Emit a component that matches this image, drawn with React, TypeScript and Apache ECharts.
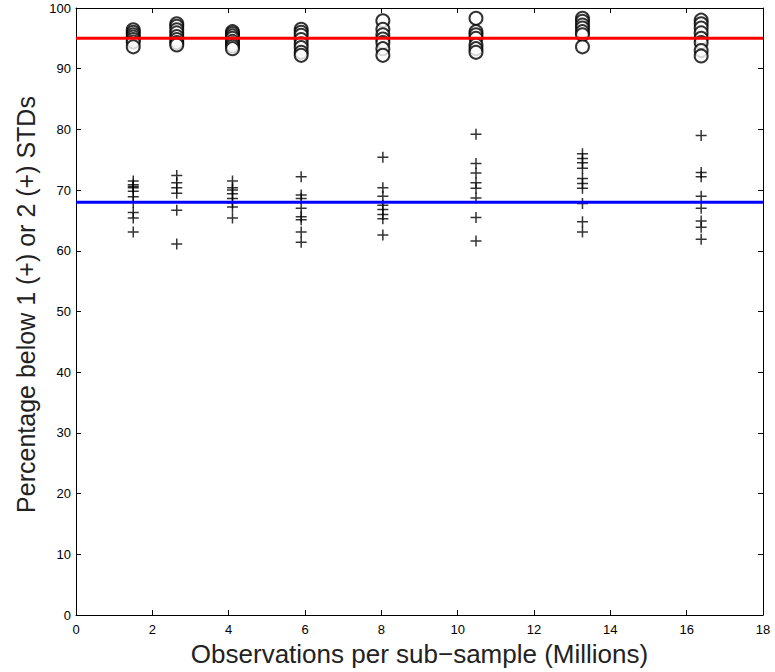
import React, { useEffect, useRef } from "react";
import * as echarts from "echarts";

const xPositions = [1.5, 2.64, 4.1, 5.9, 8.04, 10.48, 13.27, 16.38];

const circleValues: number[][] = [
  [96.4, 96.0, 95.6, 95.2, 94.8, 94.4, 93.6],
  [97.4, 97.0, 96.4, 95.9, 95.3, 94.8, 94.3, 93.9],
  [96.1, 95.8, 95.4, 95.0, 94.5, 94.1, 93.7, 93.3],
  [96.5, 96.0, 95.5, 94.8, 94.1, 93.5, 92.7, 92.2],
  [97.9, 96.5, 95.6, 94.9, 94.3, 93.3, 92.2],
  [98.3, 96.1, 95.6, 95.0, 93.9, 93.3, 92.7],
  [98.3, 97.8, 97.2, 96.7, 96.1, 95.6, 93.6],
  [98.0, 97.4, 96.7, 95.9, 95.0, 94.3, 93.0, 92.1],
];

const plusValues: number[][] = [
  [71.5, 70.9, 70.6, 70.4, 69.8, 68.9, 68.0, 66.3, 65.4, 63.1],
  [72.4, 71.2, 70.4, 69.5, 66.7, 61.1],
  [71.5, 70.4, 70.0, 69.4, 68.6, 67.9, 67.2, 65.4],
  [72.2, 69.2, 68.6, 67.0, 65.6, 65.1, 63.1, 61.4],
  [75.4, 70.4, 69.0, 67.5, 66.8, 66.0, 65.3, 62.6],
  [79.2, 74.4, 72.8, 71.2, 70.3, 68.7, 65.5, 61.6],
  [76.0, 75.2, 74.5, 73.6, 71.9, 71.1, 70.3, 67.8, 64.8, 63.1],
  [79.0, 72.9, 72.2, 69.0, 67.0, 64.9, 63.9, 61.9],
];

const level2Std = 95;
const level1Std = 68;
const xRange = [0, 18];
const yRange = [0, 100];

const font = "'Liberation Sans', Arial, Helvetica, sans-serif";

function pairs(vals: number[][]): number[][] {
  const out: number[][] = [];
  vals.forEach((col, i) => col.forEach((v) => out.push([xPositions[i], v])));
  return out;
}

export default function App() {
  const ref = useRef<HTMLDivElement>(null);
  useEffect(() => {
    if (!ref.current) return;
    const chart = echarts.init(ref.current, undefined, { renderer: "svg" });
    const axisCommon = {
      axisLine: { show: true, onZero: false, lineStyle: { color: "#000", width: 1 } },
      axisTick: { show: true, inside: true, length: 5, lineStyle: { color: "#000" } },
      splitLine: { show: false },
    };
    chart.setOption({
      animation: false,
      backgroundColor: "#fff",
      grid: { left: 76, right: 12, top: 8, bottom: 57, containLabel: false },
      xAxis: [
        {
          type: "value",
          min: xRange[0],
          max: xRange[1],
          interval: 2,
          position: "bottom",
          ...axisCommon,
          axisLabel: { color: "#000", fontSize: 13, fontFamily: font, margin: 8 },
          name: "Observations per sub\u2212sample (Millions)",
          nameLocation: "middle",
          nameGap: 22,
          nameTextStyle: { color: "#222", fontSize: 26, fontFamily: font },
        },
        {
          type: "value",
          min: xRange[0],
          max: xRange[1],
          interval: 2,
          position: "top",
          ...axisCommon,
          axisLabel: { show: false },
        },
      ],
      yAxis: [
        {
          type: "value",
          min: yRange[0],
          max: yRange[1],
          interval: 10,
          position: "left",
          ...axisCommon,
          axisLabel: { color: "#000", fontSize: 13, fontFamily: font, margin: 5 },
          name: "Percentage below 1 (+) or 2 (+) STDs",
          nameLocation: "middle",
          nameGap: 38,
          nameTextStyle: { color: "#222", fontSize: 25, fontFamily: font, padding: [0, 0, 0, 14] },
        },
        {
          type: "value",
          min: yRange[0],
          max: yRange[1],
          interval: 10,
          position: "right",
          ...axisCommon,
          axisLabel: { show: false },
        },
      ],
      series: [
        {
          type: "scatter",
          data: pairs(circleValues),
          symbol: "emptyCircle",
          symbolSize: 13,
          itemStyle: { color: "#000", borderColor: "#000", borderWidth: 1.3 },
        },
        {
          type: "scatter",
          data: pairs(plusValues),
          symbol: "path://M5,0 L5,10 M0,5 L10,5",
          symbolSize: 11,
          itemStyle: { color: "none", borderColor: "#000", borderWidth: 1.5 },
        },
        {
          type: "line",
          data: [
            [xRange[0], level2Std],
            [xRange[1], level2Std],
          ],
          symbol: "none",
          lineStyle: { color: "#ff0000", width: 3 },
        },
        {
          type: "line",
          data: [
            [xRange[0], level1Std],
            [xRange[1], level1Std],
          ],
          symbol: "none",
          lineStyle: { color: "#0000ff", width: 3 },
        },
      ],
    });
    return () => chart.dispose();
  }, []);
  return <div ref={ref} style={{ width: 775, height: 672, position: "absolute", left: 0, top: 0 }} />;
}
